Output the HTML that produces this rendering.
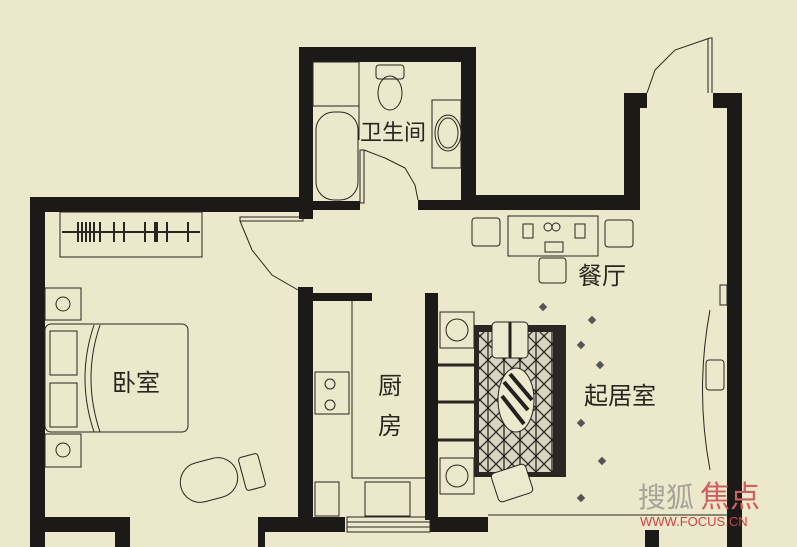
<!DOCTYPE html>
<html><head><meta charset="utf-8"><style>
html,body{margin:0;padding:0;background:#ebe8cb;}
svg{display:block}
text{font-family:"Liberation Sans","Noto Sans CJK SC",sans-serif;fill:#2a2520}
</style></head><body>
<svg width="797" height="547" viewBox="0 0 797 547" xmlns="http://www.w3.org/2000/svg">
<defs>
<pattern id="rp" width="16" height="16" patternUnits="userSpaceOnUse">
<rect width="16" height="16" fill="#d8d4c0"/>
<path d="M0,0 L16,16 M16,0 L0,16 M8,0 L8,16" stroke="#2a2622" stroke-width="1.3"/>
</pattern>
</defs>
<rect width="797" height="547" fill="#ebe8cb"/>
<g fill="#1c1a18">
<rect x="299" y="47" width="177" height="15"/>
<rect x="299" y="47" width="14" height="172"/>
<rect x="461" y="47" width="15" height="163"/>
<rect x="313" y="201" width="47" height="9"/>
<rect x="418" y="200" width="58" height="10"/>
<rect x="461" y="195" width="179" height="15"/>
<rect x="30" y="197" width="282" height="15"/>
<rect x="30" y="197" width="15" height="350"/>
<rect x="624" y="93" width="16" height="117"/>
<rect x="624" y="93" width="23" height="15"/>
<rect x="713" y="93" width="29" height="15"/>
<rect x="727" y="93" width="15" height="454"/>
<rect x="298" y="287" width="15" height="245"/>
<rect x="298" y="293" width="74" height="8"/>
<rect x="425" y="293" width="13" height="227"/>
<rect x="30" y="517" width="100" height="15"/>
<rect x="115" y="517" width="15" height="30"/>
<rect x="258" y="517" width="87" height="15"/>
<rect x="258" y="517" width="7" height="30"/>
<rect x="430" y="517" width="58" height="15"/>
<rect x="645" y="530" width="14" height="17"/>
</g>
<g fill="none" stroke="#2a2520" stroke-width="1">
<polyline points="647,93 655,70 675,50 710,38 712,38 712,93"/>
<line x1="708" y1="38" x2="708" y2="93"/>
<rect x="240" y="217" width="63" height="4"/>
<polyline points="240,221 252,250 272,275 298,290"/>
<rect x="360" y="150" width="4" height="53"/>
<polyline points="364,150 385,158 405,168 415,185 418,200"/>
<rect x="313" y="62" width="46" height="44"/>
<rect x="316" y="112" width="42" height="88" rx="18"/>
<line x1="313" y1="106" x2="359" y2="106"/>
<line x1="359" y1="62" x2="359" y2="140"/>
<rect x="376" y="65" width="28" height="14" rx="3"/>
<ellipse cx="390" cy="93" rx="12" ry="17"/>
<rect x="432" y="100" width="29" height="68"/>
<ellipse cx="448" cy="133" rx="13" ry="18"/>
<ellipse cx="448" cy="133" rx="10" ry="15"/>
<rect x="60" y="212" width="142" height="45"/>
<line x1="62" y1="232" x2="200" y2="232" stroke-width="2"/>
<path d="M78,222v20M82,222v20M86,222v20M90,222v20M94,222v20M100,222v20M114,222v20M124,222v20M145,222v20M155,222v20M157,222v20M167,222v20M188,222v20" stroke-width="2"/>
<rect x="45" y="288" width="36" height="32"/>
<circle cx="63" cy="304" r="7"/>
<rect x="45" y="434" width="36" height="33"/>
<circle cx="63" cy="450" r="7"/>
<rect x="45" y="324" width="143" height="108" rx="6"/>
<rect x="50" y="331" width="27" height="44"/>
<rect x="50" y="383" width="27" height="44"/>
<path d="M100,325 Q82,378 100,432"/>
<path d="M94,325 Q76,378 94,432"/>
<rect x="180" y="460" width="58" height="40" rx="20" transform="rotate(-15 209 480)"/>
<rect x="242" y="455" width="20" height="34" rx="3" transform="rotate(-15 252 472)"/>
<line x1="352" y1="301" x2="352" y2="478"/>
<line x1="352" y1="478" x2="425" y2="478"/>
<rect x="315" y="372" width="34" height="42"/>
<circle cx="330" cy="384" r="5"/><circle cx="330" cy="405" r="5"/>
<rect x="315" y="482" width="24" height="34"/>
<rect x="365" y="482" width="45" height="34"/>
<rect x="347" y="517" width="83" height="15"/>
<line x1="347" y1="522" x2="430" y2="522"/><line x1="347" y1="527" x2="430" y2="527"/>
<rect x="472" y="218" width="28" height="28" rx="3"/>
<rect x="508" y="216" width="90" height="40"/>
<rect x="523" y="224" width="10" height="14"/><rect x="575" y="224" width="10" height="14"/>
<circle cx="548" cy="227" r="4"/><circle cx="556" cy="227" r="4"/>
<rect x="545" y="242" width="18" height="10"/>
<rect x="605" y="220" width="28" height="27" rx="3"/>
<rect x="539" y="258" width="27" height="25" rx="3"/>
<rect x="440" y="312" width="34" height="36"/>
<circle cx="457" cy="330" r="11"/>
<rect x="440" y="458" width="34" height="36"/>
<circle cx="457" cy="476" r="11"/>
<line x1="438" y1="365" x2="475" y2="365" stroke-width="3"/>
<line x1="438" y1="402" x2="475" y2="402" stroke-width="3"/>
<line x1="438" y1="440" x2="475" y2="440" stroke-width="3"/>
<line x1="488" y1="515" x2="727" y2="515"/>
<path d="M710,310 Q695,390 710,470"/>
<rect x="706" y="360" width="18" height="30" rx="3"/>
<rect x="720" y="285" width="7" height="20"/>
</g>
<rect x="474" y="325" width="92" height="152" fill="#2a2622"/>
<rect x="479" y="332" width="74" height="140" fill="url(#rp)"/>
<ellipse cx="516" cy="400" rx="18" ry="32" fill="#ece9cf" stroke="#222"/>
<g stroke="#222" stroke-width="4"><line x1="504" y1="382" x2="528" y2="410"/><line x1="502" y1="396" x2="524" y2="424"/><line x1="510" y1="374" x2="532" y2="400"/></g>
<rect x="492" y="322" width="36" height="36" rx="4" fill="#ece9cf" stroke="#222"/>
<line x1="510" y1="322" x2="510" y2="358" stroke="#222" stroke-width="3"/>
<rect x="494" y="468" width="36" height="30" rx="4" fill="#ece9cf" stroke="#222" transform="rotate(-18 512 483)"/>
<g fill="#555"><rect x="540" y="304" width="6" height="6" transform="rotate(45 543 307)"/><rect x="589" y="317" width="6" height="6" transform="rotate(45 592 320)"/><rect x="578" y="342" width="6" height="6" transform="rotate(45 581 345)"/><rect x="597" y="362" width="6" height="6" transform="rotate(45 600 365)"/><rect x="578" y="420" width="6" height="6" transform="rotate(45 581 423)"/><rect x="599" y="458" width="6" height="6" transform="rotate(45 602 461)"/><rect x="578" y="495" width="6" height="6" transform="rotate(45 581 498)"/></g>
<text x="360" y="140" font-size="22">卫生间</text>
<text x="578" y="284" font-size="24">餐厅</text>
<text x="112" y="391" font-size="24">卧室</text>
<text x="378" y="394" font-size="24">厨</text>
<text x="378" y="434" font-size="24">房</text>
<text x="584" y="404" font-size="24">起居室</text>
<text x="638" y="507" font-size="28" style="fill:#a8a29a">搜狐</text>
<text x="700" y="507" font-size="30" style="fill:#d06060">焦点</text>
<text x="640" y="526" font-size="13" style="fill:#cc4444">WWW.FOCUS.CN</text>
</svg>
</body></html>
